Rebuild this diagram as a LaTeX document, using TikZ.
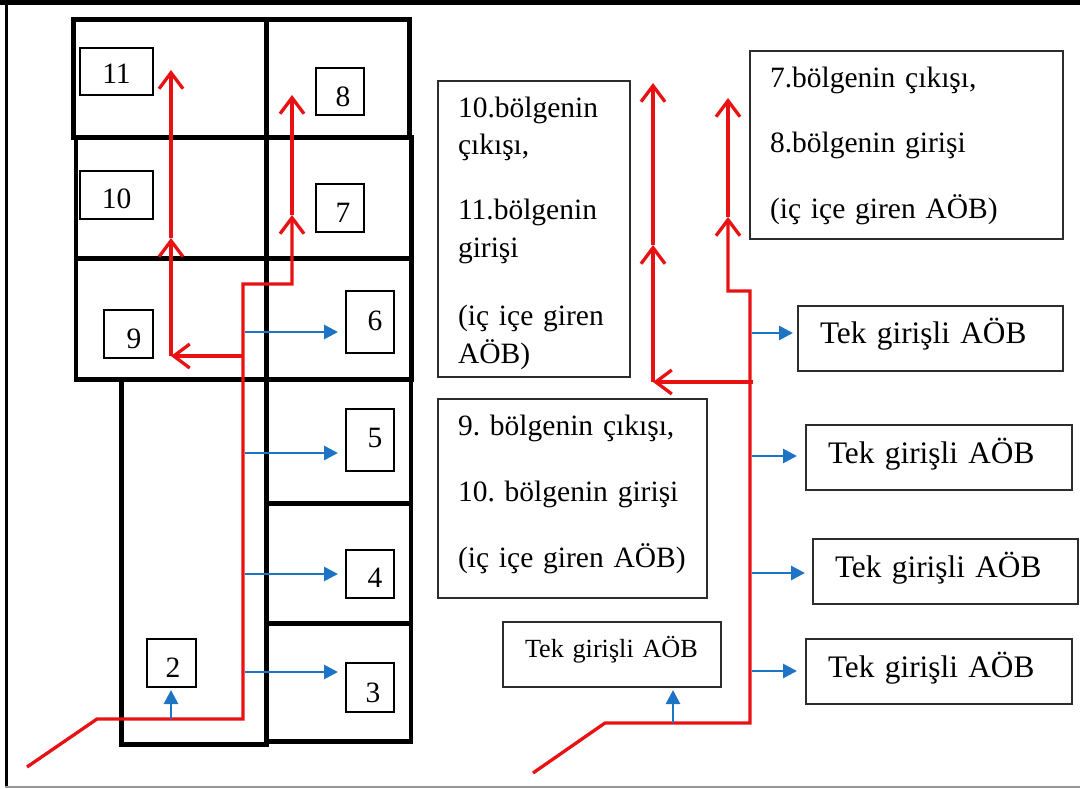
\documentclass[tikz,border=0pt]{standalone}
\usepackage{fontspec}
\IfFontExistsTF{LiberationSerif-Regular.ttf}
  {\setmainfont{LiberationSerif-Regular.ttf}}
  {\setmainfont{Liberation Serif}}
\usetikzlibrary{arrows.meta}
\definecolor{flowred}{RGB}{232,18,18}
\definecolor{flowblue}{RGB}{30,116,196}
\definecolor{framegray}{RGB}{150,150,150}
\definecolor{boxline}{RGB}{45,45,45}
\begin{document}
\frenchspacing
\begin{tikzpicture}[x=1bp,y=-1bp]
\tikzset{
  wall/.style={line width=4.8bp, black},
  numbox/.style={draw=black, line width=1.2bp, anchor=north west, inner sep=0pt,
    outer sep=0pt, align=center, font=\fontsize{29.5bp}{34bp}\selectfont},
  textbox/.style={draw=boxline, line width=1.3bp, anchor=north west, inner sep=0pt,
    outer sep=0pt, align=left},
  redline/.style={draw=flowred, line width=3.3bp, line join=miter},
  redtip/.style={-{Straight Barb[length=16bp,width=24bp]}},
  blueflow/.style={draw=flowblue, line width=2.8bp, -{Triangle[length=14bp,width=14bp]}}
}
\useasboundingbox (0,0) rectangle (1080,789);

% page frame
\draw[line width=5bp] (0,2.5) -- (1080,2.5);
\draw[line width=3.5bp] (6.5,0) -- (6.5,787);
\draw[framegray, line width=1.5bp] (5,787) -- (1080,787);

% floor plan walls
\draw[wall] (73.5,19.5) rectangle (409.5,137.5);
\draw[wall] (76,137.5) rectangle (411.5,258.5);
\draw[wall] (76,258.5) rectangle (411.5,379.5);
\draw[wall] (121.5,379.5) rectangle (266.5,744.5);
\draw[wall] (266.5,379.5) rectangle (411,503.5);
\draw[wall] (266.5,503.5) rectangle (411,623.5);
\draw[wall] (266.5,623.5) rectangle (411,741.5);
\draw[wall] (266.5,19.5) -- (266.5,379.5);

% zone numbers
\node[numbox, minimum width=73bp, minimum height=47bp, text width=73bp, text height=35bp, text depth=12bp] (n11) at (80,48) {11};
\node[numbox, minimum width=73bp, minimum height=48bp, text width=73bp, text height=37bp, text depth=11bp] (n10) at (80,171) {10};
\node[numbox, minimum width=48bp, minimum height=47bp, text width=48bp, text height=38bp, text depth=9bp] (n8) at (316,68) {\hspace*{6bp}8};
\node[numbox, minimum width=48bp, minimum height=48bp, text width=48bp, text height=38bp, text depth=10bp] (n7) at (316,184) {\hspace*{6bp}7};
\node[numbox, minimum width=49bp, minimum height=48bp, text width=49bp, text height=38bp, text depth=10bp] (n9) at (104,310) {\hspace*{11bp}9};
\node[numbox, minimum width=48bp, minimum height=62bp, text width=48bp, text height=39bp, text depth=23bp] (n6) at (346,291) {\hspace*{10bp}6};
\node[numbox, minimum width=48bp, minimum height=62bp, text width=48bp, text height=38bp, text depth=24bp] (n5) at (346,409) {\hspace*{10bp}5};
\node[numbox, minimum width=48bp, minimum height=48bp, text width=48bp, text height=37bp, text depth=11bp] (n4) at (346,550) {\hspace*{10bp}4};
\node[numbox, minimum width=48bp, minimum height=49bp, text width=48bp, text height=39bp, text depth=10bp] (n3) at (346,663) {\hspace*{6bp}3};
\node[numbox, minimum width=49bp, minimum height=48bp, text width=49bp, text height=38bp, text depth=10bp] (n2) at (147,639) {\hspace*{3bp}2};

% explanation boxes
\node[textbox, minimum width=192bp, minimum height=296bp, text width=152bp, text height=36bp, text depth=260bp,
  font=\fontsize{29.5bp}{37.5bp}\selectfont] (nest1011) at (438,81)
  {10.bölgenin\\
   çıkışı,\\[27.5bp]
   11.bölgenin\\
   girişi\\[31bp]
   \makebox[152bp][s]{(iç içe giren}\\
   AÖB)};
\node[textbox, minimum width=313bp, minimum height=188bp, text width=273bp, text height=36bp, text depth=152bp,
  font=\fontsize{29.5bp}{65.5bp}\selectfont] (nest78) at (750,51)
  {7.bölgenin çıkışı,\\8.bölgenin girişi\\(iç içe giren AÖB)};
\node[textbox, minimum width=269bp, minimum height=199bp, text width=229bp, text height=36bp, text depth=163bp,
  font=\fontsize{29.5bp}{66bp}\selectfont] (nest910) at (438,399)
  {9. bölgenin çıkışı,\\10. bölgenin girişi\\(iç içe giren AÖB)};
\node[textbox, minimum width=265bp, minimum height=65bp, text width=221bp, text height=37bp, text depth=28bp,
  font=\fontsize{31.3bp}{36bp}\selectfont] (single1) at (798,306) {Tek girişli AÖB};
\node[textbox, minimum width=266bp, minimum height=65bp, text width=222bp, text height=38bp, text depth=27bp,
  font=\fontsize{31.3bp}{36bp}\selectfont] (single2) at (806,425) {Tek girişli AÖB};
\node[textbox, minimum width=265bp, minimum height=65bp, text width=221bp, text height=38bp, text depth=27bp,
  font=\fontsize{31.3bp}{36bp}\selectfont] (single3) at (813,539) {Tek girişli AÖB};
\node[textbox, minimum width=266bp, minimum height=65bp, text width=222bp, text height=38bp, text depth=27bp,
  font=\fontsize{31.3bp}{36bp}\selectfont] (single4) at (806,639) {Tek girişli AÖB};
\node[textbox, minimum width=218bp, minimum height=65bp, text width=174bp, text height=35bp, text depth=30bp,
  font=\fontsize{26.2bp}{30bp}\selectfont] (single0) at (503,622) {Tek girişli AÖB};

% red supply line, floor plan
\coordinate (inL) at (27,767);
\coordinate (kneeL) at (97,719);
\coordinate (cornerL) at (243,719);
\coordinate (stepL) at (243,284);
\coordinate (stepL2) at (292,284);
\coordinate (mid7) at (292,215);
\coordinate (top8) at (292,95);
\coordinate (branchL) at (243,356);
\coordinate (turn9) at (171,356);
\coordinate (mid10) at (171,238);
\coordinate (top11) at (171,70);
\draw[redline, redtip] (inL) -- (kneeL) -- (cornerL) -- (stepL) -- (stepL2) -- (mid7);
\draw[redline, redtip] (mid7) -- (top8);
\draw[redline, redtip] (branchL) -- (turn9);
\draw[redline, redtip] (turn9) -- (mid10);
\draw[redline, redtip] (mid10) -- (top11);

% blue branches, floor plan
\coordinate (b6) at (245,332);
\coordinate (b5) at (245,453);
\coordinate (b4) at (245,574);
\coordinate (b3) at (245,672);
\coordinate (b2) at (171,719);
\draw[blueflow, shorten >=8bp] (b6) -- (b6 -| n6.west);
\draw[blueflow, shorten >=8bp] (b5) -- (b5 -| n5.west);
\draw[blueflow, shorten >=8bp] (b4) -- (b4 -| n4.west);
\draw[blueflow, shorten >=8bp] (b3) -- (b3 -| n3.west);
\draw[blueflow, shorten >=3bp] (b2) -- (b2 |- n2.south);

% red supply line, scheme
\coordinate (inR) at (533,773);
\coordinate (kneeR) at (605,723);
\coordinate (cornerR) at (750,723);
\coordinate (stepR) at (750,291);
\coordinate (stepR2) at (728,291);
\coordinate (midR7) at (728,217);
\coordinate (topR8) at (728,98);
\coordinate (branchR) at (753,382);
\coordinate (turnR) at (653,382);
\coordinate (midR10) at (653,245);
\coordinate (topR11) at (653,83);
\draw[redline, redtip] (inR) -- (kneeR) -- (cornerR) -- (stepR) -- (stepR2) -- (midR7);
\draw[redline, redtip] (midR7) -- (topR8);
\draw[redline, redtip] (branchR) -- (turnR);
\draw[redline, redtip] (turnR) -- (midR10);
\draw[redline, redtip] (midR10) -- (topR11);

% blue branches, scheme
\coordinate (t1) at (752,333);
\coordinate (t2) at (752,456);
\coordinate (t3) at (752,573);
\coordinate (t4) at (752,671);
\coordinate (t0) at (673,723);
\draw[blueflow, shorten >=5bp] (t1) -- (t1 -| single1.west);
\draw[blueflow, shorten >=9bp] (t2) -- (t2 -| single2.west);
\draw[blueflow, shorten >=8bp] (t3) -- (t3 -| single3.west);
\draw[blueflow, shorten >=9bp] (t4) -- (t4 -| single4.west);
\draw[blueflow, shorten >=3bp] (t0) -- (t0 |- single0.south);
\end{tikzpicture}
\end{document}
